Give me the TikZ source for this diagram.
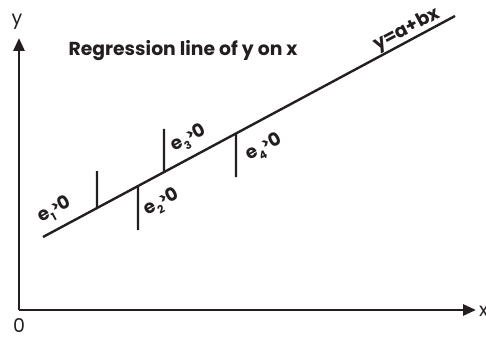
\documentclass[tikz,border=0pt]{standalone}
\usepackage{fontspec}
\setmainfont{Poppins}
\usepackage{tikz}
\usetikzlibrary{arrows.meta,calc}
\definecolor{rlink}{HTML}{231F20}
\newcommand{\resid}[1]{e\raisebox{-0.5ex}{\fontsize{11}{11}\selectfont #1}\raisebox{0.25ex}{\fontsize{14}{14}\selectfont\textgreater}0}

\begin{document}
\begin{tikzpicture}[
  x=1pt, y=-1pt,
  font=\fontsize{11}{13}\selectfont,
  axis/.style={line width=2.8pt,rlink,-{Triangle[length=13pt,width=11pt]}},
  regline/.style={line width=2.4pt,rlink,line cap=butt},
  resid/.style={line width=2.2pt,rlink},
  albl/.style={font=\fontsize{19}{21}\selectfont,text=rlink,inner sep=0pt},
  elbl/.style={font=\fontsize{18.5}{20}\selectfont\bfseries,text=rlink,rotate=28,inner sep=0pt},
  ttl/.style={font=\fontsize{18.8}{22}\selectfont\bfseries,text=rlink,inner sep=0pt}]

  \useasboundingbox (0,0) rectangle (486,339);

  % axes
  \coordinate (O) at (19,310);
  \coordinate (ytip) at (19,38);
  \coordinate (xtip) at (476,310);
  \draw[axis] (O) -- (xtip);
  \draw[axis] (O) -- (ytip);
  \node[albl] (ylab) at (17,22) {y};
  \node[albl,anchor=west] (xlab) at (479,311) {x};
  \node[albl] (olab) at (19,326) {0};

  % regression line
  \coordinate (L0) at (43,237);
  \coordinate (L1) at (455,16);
  \draw[regline] (L0) -- (L1);
  \node[ttl] (title) at (183,51) {Regression line of y on x};
  \node[elbl] (eqn) at (407,30) {y=a+bx};

  % residuals
  \coordinate (r1a) at ($(L0)!{(97-43)/412}!(L1)$);
  \coordinate (r1b) at (97,171);
  \coordinate (r2a) at ($(L0)!{(138-43)/412}!(L1)$);
  \coordinate (r2b) at (138,230);
  \coordinate (r3a) at ($(L0)!{(164-43)/412}!(L1)$);
  \coordinate (r3b) at (164,129);
  \coordinate (r4a) at ($(L0)!{(236-43)/412}!(L1)$);
  \coordinate (r4b) at (236,177);
  \foreach \i in {1,...,4}
    \draw[resid] (r\i a) -- (r\i b);

  \node[elbl] (e1) at (55,210) {\resid{1}};
  \node[elbl] (e2) at (162,203) {\resid{2}};
  \node[elbl] (e3) at (189,139) {\resid{3}};
  \node[elbl] (e4) at (264,148) {\resid{4}};
\end{tikzpicture}
\end{document}
